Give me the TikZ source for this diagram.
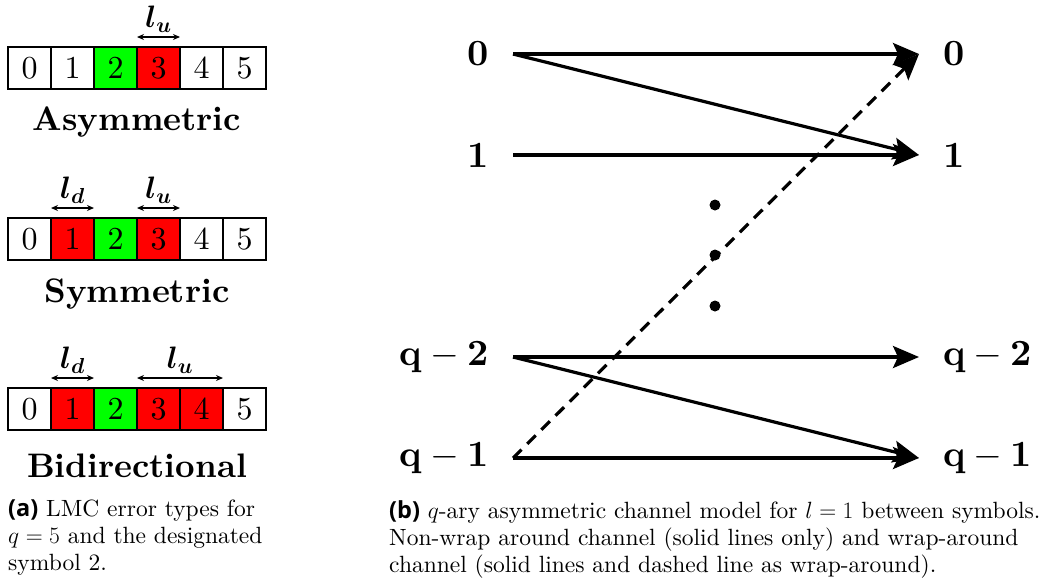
\documentclass[tikz,border=0pt]{standalone}
\usepackage{fix-cm}
\usepackage{amsmath,amssymb}
\usepackage{fontspec}
\setmainfont{lmroman10-regular.otf}[BoldFont=lmroman10-bold.otf,ItalicFont=lmroman10-italic.otf,BoldItalicFont=lmroman10-bolditalic.otf]
\newfontfamily\capsf{Open Sans}
\usepackage{xcolor}
\usepackage{tikz}
\usetikzlibrary{arrows.meta,positioning}

\begin{document}
\begin{tikzpicture}[x=1pt,y=-1pt,node distance=0pt,
cell/.style={draw,line width=1.2pt,minimum width=43pt,minimum height=42pt,inner sep=0pt,outer sep=0pt,font=\fontsize{32}{36}\selectfont},
kind/.style={anchor=base,font=\fontsize{34}{40}\selectfont\bfseries},
span/.style={{Stealth[length=7pt,width=6pt]}-{Stealth[length=7pt,width=6pt]},line width=1.3pt},
lbl/.style={font=\fontsize{31}{36}\selectfont,inner sep=1pt,above=3pt},
sym/.style={font=\fontsize{37}{44}\selectfont\bfseries,inner xsep=24pt,inner ysep=0pt},
arr/.style={-{Stealth[length=26pt,width=22pt,inset=5pt]},line width=3.2pt},
wrap/.style={arr,dash pattern=on 12pt off 8pt},
dot/.style={circle,fill,inner sep=0pt,minimum size=11pt},
capnote/.style={anchor=north west,align=left,inner sep=0pt,font=\fontsize{23.5}{27}\selectfont}]
\useasboundingbox (0,0) rectangle (1047,584);

% (a) error types
\node[cell] (a0) at (29.5,68) {0};
\node[cell,right=of a0] (a1) {1};
\node[cell,fill=green,right=of a1] (a2) {2};
\node[cell,fill=red,right=of a2] (a3) {3};
\node[cell,right=of a3] (a4) {4};
\node[cell,right=of a4] (a5) {5};
\draw[span] ([yshift=10pt]a3.north west) -- node[lbl] (lua) {$\boldsymbol{l_u}$} ([yshift=10pt]a3.north east);
\node[kind] (ta) at (137,130) {Asymmetric};

\node[cell] (s0) at (29.5,239) {0};
\node[cell,fill=red,right=of s0] (s1) {1};
\node[cell,fill=green,right=of s1] (s2) {2};
\node[cell,fill=red,right=of s2] (s3) {3};
\node[cell,right=of s3] (s4) {4};
\node[cell,right=of s4] (s5) {5};
\draw[span] ([yshift=10pt]s1.north west) -- node[lbl] (lds) {$\boldsymbol{l_d}$} ([yshift=10pt]s1.north east);
\draw[span] ([yshift=10pt]s3.north west) -- node[lbl] (lus) {$\boldsymbol{l_u}$} ([yshift=10pt]s3.north east);
\node[kind] (ts) at (137,302) {Symmetric};

\node[cell] (b0) at (29.5,409) {0};
\node[cell,fill=red,right=of b0] (b1) {1};
\node[cell,fill=green,right=of b1] (b2) {2};
\node[cell,fill=red,right=of b2] (b3) {3};
\node[cell,fill=red,right=of b3] (b4) {4};
\node[cell,right=of b4] (b5) {5};
\draw[span] ([yshift=10pt]b1.north west) -- node[lbl] (ldb) {$\boldsymbol{l_d}$} ([yshift=10pt]b1.north east);
\draw[span] ([yshift=10pt]b3.north west) -- node[lbl] (lub) {$\boldsymbol{l_u}$} ([yshift=10pt]b4.north east);
\node[kind] (tb) at (137,477) {Bidirectional};

\node[capnote] (capa) at (8,500) {{\capsf\bfseries (a)} LMC error types for\\$q=5$ and the designated\\symbol 2.};

% (b) channel model
\node[sym,anchor=east] (i0) at (513,54) {0};
\node[sym,anchor=east] (i1) at (513,155) {1};
\node[sym,anchor=east] (iq2) at (513,357) {$\mathbf{q-2}$};
\node[sym,anchor=east] (iq1) at (513,458) {$\mathbf{q-1}$};
\node[sym,anchor=west] (o0) at (919,54) {0};
\node[sym,anchor=west] (o1) at (919,155) {1};
\node[sym,anchor=west] (oq2) at (919,357) {$\mathbf{q-2}$};
\node[sym,anchor=west] (oq1) at (919,458) {$\mathbf{q-1}$};
\node[dot] (d1) at (715,205) {};
\node[dot] (d2) at (715,255) {};
\node[dot] (d3) at (715,306) {};
\draw[arr] (i0.east) -- (o0.west);
\draw[arr] (i0.east) -- (o1.west);
\draw[arr] (i1.east) -- (o1.west);
\draw[arr] (iq2.east) -- (oq2.west);
\draw[arr] (iq2.east) -- (oq1.west);
\draw[arr] (iq1.east) -- (oq1.west);
\draw[wrap] (iq1.east) -- (o0.west);

\node[capnote] (capb) at (389,500) {{\capsf\bfseries (b)} $q$-ary asymmetric channel model for $l=1$ between symbols.\\Non-wrap around channel (solid lines only) and wrap-around\\channel (solid lines and dashed line as wrap-around).};
\end{tikzpicture}
\end{document}
